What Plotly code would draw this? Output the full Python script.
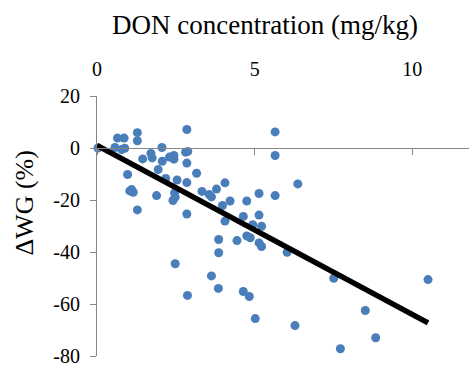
import plotly.graph_objects as go
import numpy as np

don_x = [0.03, 0.65, 0.86, 1.28, 1.28, 0.57, 0.78, 0.88, 0.97, 1.10, 1.15, 1.04, 1.28,
         1.45, 1.71, 1.75, 2.06, 2.07, 1.94, 1.89, 2.30, 2.44, 2.44, 2.18, 2.54, 2.46,
         2.41, 2.48, 2.48, 2.85, 2.81, 2.88, 2.85, 2.85, 2.85, 2.87, 3.16, 3.33, 3.56,
         3.63, 3.79, 4.06, 4.22, 3.98, 4.75, 5.14, 5.65, 5.65, 5.65, 6.37, 4.06, 4.64,
         5.14, 4.94, 5.22, 4.75, 4.86, 3.86, 4.44, 5.14, 5.22, 3.86, 6.03, 3.63, 3.85,
         4.64, 4.83, 5.02, 6.28, 7.51, 10.5, 8.51, 8.84, 7.72]
wg_y = [0.0, 3.8, 3.8, 5.9, 2.8, 0.2, -0.6, -0.1, -10.2, -16.0, -17.0, -16.5, -23.8,
        -4.2, -2.1, -3.8, 0.2, -5.1, -8.3, -18.3, -3.5, -2.9, -4.3, -11.7, -12.3, -17.3,
        -20.2, -18.9, -44.5, 7.1, -1.6, -1.3, -5.8, -13.3, -25.4, -56.7, -9.7, -16.7, -17.9,
        -18.8, -15.8, -13.4, -20.4, -22.1, -20.4, -17.5, -18.3, 6.2, -2.9, -13.8, -28.1, -26.3,
        -25.8, -29.5, -30.1, -33.8, -34.5, -35.2, -35.6, -36.5, -37.9, -40.3, -40.1, -49.2, -54.0,
        -55.2, -57.1, -65.6, -68.3, -50.1, -50.6, -62.5, -73.0, -77.2]

trend_intercept = 1.0
trend_slope = -6.5

x_ticks = [0, 5, 10]
x_ticktext = ["0", "5", "10"]
y_ticks = [-80, -60, -40, -20, 0, 20]
y_ticktext = ["-80", "-60", "-40", "-20", "0", "20"]

x_title = "DON concentration (mg/kg)"
y_title = "ΔWG (%)"

FONT = "Liberation Serif"
AX = "#868686"

line_x = np.array([0.0, max(don_x)])
line_y = trend_intercept + trend_slope * line_x

fig = go.Figure()
fig.add_trace(go.Scatter(x=don_x, y=wg_y, mode="markers",
                         marker=dict(size=9, color="#4a7ebb"),
                         cliponaxis=False, showlegend=False))
fig.add_trace(go.Scatter(x=line_x, y=line_y, mode="lines",
                         line=dict(color="black", width=5.5),
                         cliponaxis=False, showlegend=False))
# tick marks on the zero line
fig.add_trace(go.Scatter(x=[None], y=[None], xaxis="x2", showlegend=False))

fig.update_layout(
    width=469, height=369,
    margin=dict(l=97, r=0, t=96, b=13),
    paper_bgcolor="white", plot_bgcolor="white",
    font=dict(family=FONT, size=20, color="black"),
    xaxis=dict(range=[0, 11.8], side="top", showline=False, showgrid=False,
               zeroline=False, tickvals=x_ticks, ticktext=x_ticktext,
               ticks="outside", ticklen=11, tickcolor="rgba(0,0,0,0)",
               tickfont=dict(family=FONT, size=20, color="black")),
    xaxis2=dict(range=[0, 11.8], overlaying="x", anchor="free", position=0.8,
                side="bottom", showline=True, linecolor=AX, linewidth=1,
                showgrid=False, zeroline=False, tickvals=x_ticks,
                ticks="outside", ticklen=6, tickcolor=AX, showticklabels=False),
    yaxis=dict(range=[-80, 20], showline=True, linecolor=AX, linewidth=1,
               showgrid=False, zeroline=False, tickvals=y_ticks, ticktext=y_ticktext,
               ticks="outside", ticklen=6, tickcolor=AX,
               tickfont=dict(family=FONT, size=20, color="black"),
               ticklabelstandoff=6),
    annotations=[
        dict(text=x_title, xref="paper", yref="paper", x=0.4516, y=1.275,
             xanchor="center", yanchor="middle", showarrow=False,
             font=dict(family=FONT, size=27, color="black")),
        dict(text=y_title, xref="paper", yref="paper", x=-0.1935, y=0.59,
             xanchor="center", yanchor="middle", showarrow=False, textangle=-90,
             font=dict(family=FONT, size=26, color="black")),
    ],
)

fig.write_html("out.html")
